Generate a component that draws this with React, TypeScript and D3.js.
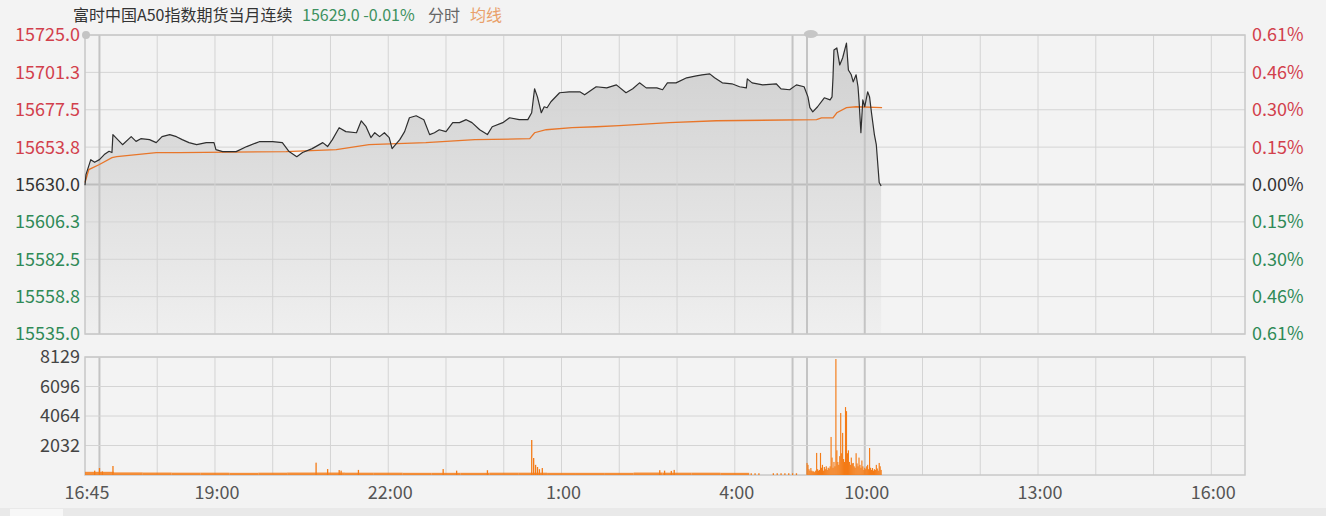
import React from "react";
import * as d3 from "d3";

const W = 1326;
const H = 516;

// ---- data ----
const BASE_PRICE = 15630.0;
const PRICE_MIN = 15535.0;
const PRICE_MAX = 15725.0;
const VOL_MAX = 8129;
const SESSION_MINUTES = 1205; // 16:45 -> 05:15 (750 min) + 09:00 -> 16:35 (455 min)

const titleName = "富时中国A50指数期货当月连续";
const titleQuote = "15629.0 -0.01%";
const titleMode = "分时";
const titleAvg = "均线";

const timeLabels = ["16:45", "19:00", "22:00", "1:00", "4:00", "10:00", "13:00", "16:00"];
const timeLabelMinutes = [0, 135, 315, 495, 675, 810, 990, 1170];
const hourGridMinutes = [15, 75, 135, 195, 255, 315, 375, 435, 495, 555, 615, 675, 735, 750, 810, 870, 930, 990, 1050, 1110, 1170];
const strongGridMinutes = [15, 735, 750, 810];

// minutes since 16:45 (day session continues at 750 = 09:00)
const priceMinutes = [
  0, 1, 6, 10, 15, 20, 25, 28, 29, 34, 39, 48, 53, 58, 67, 74, 80, 88, 95, 101,
  108, 116, 126, 134, 136, 143, 157, 168, 181, 195, 205, 212, 220, 226, 236, 247, 252, 257, 264, 271,
  282, 287, 292, 297, 301, 306, 311, 316, 319, 327, 332, 337, 344, 352, 358, 363, 368, 375, 382, 389,
  396, 402, 410, 418, 423, 434, 441, 451, 460, 464, 467, 470, 474, 477, 480, 484, 493, 503, 514, 519,
  531, 542, 552, 562, 569, 576, 583, 594, 600, 605, 614, 625, 635, 641, 649, 654, 662, 672, 680, 687,
  688, 693, 704, 718, 723, 732, 739, 747, 751, 753, 756, 761, 768, 774, 776, 777, 778, 781, 784, 787,
  791, 793, 796, 798, 801, 803, 804, 806, 808, 810, 813, 815, 817, 820, 822, 825, 827,
];
const priceValues = [
  15629.5, 15636.3, 15645.8, 15644.1, 15645.8, 15649.0, 15651.1, 15650.3, 15661.7, 15658.5,
  15655.3, 15660.4, 15657.4, 15659.1, 15658.5, 15656.6, 15660.4, 15661.7, 15660.4, 15658.5,
  15656.6, 15655.3, 15656.6, 15656.6, 15652.2, 15650.9, 15650.9, 15654.1, 15657.2, 15657.2,
  15656.6, 15650.9, 15647.7, 15650.3, 15652.8, 15656.6, 15654.1, 15658.5, 15666.1, 15663.6,
  15662.9, 15670.5, 15666.7, 15659.8, 15662.9, 15660.4, 15662.9, 15659.8, 15652.8, 15658.5,
  15663.6, 15672.4, 15673.7, 15671.2, 15661.7, 15662.9, 15664.8, 15663.6, 15669.3, 15669.3,
  15671.2, 15669.3, 15664.8, 15661.7, 15666.7, 15669.3, 15672.4, 15671.2, 15671.2, 15675.6,
  15690.8, 15685.7, 15675.6, 15679.4, 15678.8, 15682.6, 15688.3, 15688.9, 15688.9, 15687.0,
  15692.1, 15691.4, 15693.3, 15688.3, 15690.8, 15694.6, 15691.4, 15691.4, 15690.2, 15694.6,
  15694.6, 15697.8, 15699.0, 15699.7, 15700.3, 15697.8, 15694.6, 15694.0, 15692.1, 15691.4,
  15697.1, 15694.6, 15693.3, 15694.0, 15690.8, 15690.2, 15693.3, 15692.1, 15685.7, 15678.8,
  15676.2, 15679.4, 15685.1, 15683.8, 15685.7, 15697.8, 15715.5, 15716.8, 15706.0, 15710.4,
  15719.9, 15702.8, 15699.7, 15695.2, 15699.7, 15692.1, 15683.8, 15662.9, 15683.8, 15679.4,
  15688.9, 15685.7, 15675.6, 15661.7, 15655.3, 15631.3, 15629.0,
];

const avgMinutes = [0, 4, 15, 28, 33, 74, 98, 209, 261, 295, 354, 405, 462, 467, 479, 506, 531, 555, 607, 656, 760, 765, 777, 781, 791, 801, 828];
const avgValues = [
  15631.3, 15639.5, 15642.7, 15647.1, 15647.7, 15650.3, 15650.3, 15650.9, 15652.2, 15655.3,
  15656.6, 15658.5, 15659.1, 15662.9, 15664.8, 15666.1, 15666.7, 15667.4, 15669.3, 15670.5,
  15671.2, 15672.4, 15672.4, 15675.6, 15678.8, 15679.4, 15678.8,
];

// night session baseline volume, 30-minute buckets starting 16:45
const nightBaseVolume = [220, 180, 170, 160, 160, 150, 160, 170, 170, 160, 160, 150, 150, 150, 160, 160, 150, 150, 150, 170, 160, 160, 150, 0, 0];
const NIGHT_BUCKET = 30;

// individual night-session volume ticks
const nightSpikeMinutes = [10, 15, 18, 29, 240, 252, 264, 266, 284, 372, 386, 418, 464, 466, 468, 470, 472, 475, 597, 602, 609, 612, 692, 696, 700, 715, 719, 723, 727, 731, 735, 739];
const nightSpikeValues = [300, 480, 250, 620, 850, 410, 340, 300, 350, 410, 300, 330, 2410, 1170, 700, 550, 400, 480, 330, 300, 280, 350, 120, 120, 120, 120, 120, 120, 120, 120, 120, 120];

// day session volume, one per minute from 09:00 (minute 750)
const DAY_START = 750;
const dayVolumes = [
  830, 700, 400, 300, 480, 300, 250, 250, 200, 300,
  1520, 400, 300, 350, 1520, 500, 700, 300, 550, 400,
  600, 350, 500, 450, 600, 2620, 1200, 500, 900, 600,
  7990, 1700, 900, 700, 1300, 4270, 1500, 2900, 1100, 900,
  4680, 4400, 1500, 1700, 900, 700, 1200, 800, 830, 600,
  500, 1500, 800, 600, 1200, 700, 500, 1000, 600, 350,
  500, 400, 600, 700, 400, 1860, 500, 350, 480, 300,
  400, 350, 700, 450, 300, 830, 600, 350,
];

// ---- layout ----
const X0 = 85;
const X1 = 1245;
const P_TOP = 35;
const P_BOT = 334;
const V_TOP = 357;
const V_BOT = 475;

const FONT = "'Noto Sans CJK SC', 'Noto Sans', sans-serif";
const RED = "#d2404c";
const GREEN = "#2f8a57";
const DARK = "#333333";
const GRID = "#d4d4d4";
const ORANGE_LINE = "#e8762a";
const ORANGE_VOL = "#f47b16";

export default function App() {
  const x = d3.scaleLinear().domain([0, SESSION_MINUTES]).range([X0, X1]);
  const y = d3.scaleLinear().domain([PRICE_MIN, PRICE_MAX]).range([P_BOT, P_TOP]);
  const yv = d3.scaleLinear().domain([0, VOL_MAX]).range([V_BOT, V_TOP]);

  const priceTicks = d3.range(9).map((i) => PRICE_MIN + ((PRICE_MAX - PRICE_MIN) * i) / 8);
  const volTicks = [1, 2, 3, 4].map((i) => (VOL_MAX * i) / 4);

  const pts = priceMinutes.map((m, i) => [m, priceValues[i]] as [number, number]);
  const avgPts = avgMinutes.map((m, i) => [m, avgValues[i]] as [number, number]);

  const line = d3.line<[number, number]>().x((d) => x(d[0])).y((d) => y(d[1]));
  const area = d3
    .area<[number, number]>()
    .x((d) => x(d[0]))
    .y0(P_BOT)
    .y1((d) => y(d[1]));

  const priceColor = (v: number) => (Math.abs(v - BASE_PRICE) < 1e-6 ? DARK : v > BASE_PRICE ? RED : GREEN);

  return (
    <div style={{ position: "fixed", left: 0, top: 0, width: W, height: H, background: "#f3f3f3" }}>
      <svg width={W} height={H} style={{ display: "block" }} fontFamily={FONT}>
        <defs>
          <linearGradient id="areaGrad" gradientUnits="userSpaceOnUse" x1="0" y1={P_TOP} x2="0" y2={P_BOT}>
            <stop offset="0%" stopColor="#cfcfcf" />
            <stop offset="100%" stopColor="#efefef" />
          </linearGradient>
        </defs>
        <rect x={0} y={0} width={W} height={H} fill="#f3f3f3" />
        <rect x={0} y={508} width={W} height={8} fill="#e9e9e9" />
        <rect x={10} y={509} width={53} height={7} fill="#f7f7f7" />

        {/* title */}
        <text x={73} y={21} fontSize={16} fill={DARK}>{titleName}</text>
        <text x={302} y={21} fontSize={16} fill="#3d9160">{titleQuote}</text>
        <text x={428} y={21} fontSize={16} fill="#666">{titleMode}</text>
        <text x={470} y={21} fontSize={16} fill="#e9a06a">{titleAvg}</text>

        {/* price area */}
        <path d={area(pts) || ""} fill="url(#areaGrad)" />

        {/* price grid */}
        {priceTicks.map((t, i) => (
          <line key={"pg" + i} x1={X0} x2={X1} y1={y(t)} y2={y(t)}
            stroke={Math.abs(t - BASE_PRICE) < 1e-6 ? "#bdbdbd" : GRID}
            strokeWidth={Math.abs(t - BASE_PRICE) < 1e-6 ? 2.2 : 1} />
        ))}
        {hourGridMinutes.map((m, i) => (
          <g key={"vg" + i}>
            <line x1={x(m)} x2={x(m)} y1={P_TOP} y2={P_BOT}
              stroke={strongGridMinutes.includes(m) ? "#c4c4c4" : GRID}
              strokeWidth={strongGridMinutes.includes(m) ? 2 : 1} />
            <line x1={x(m)} x2={x(m)} y1={V_TOP} y2={V_BOT}
              stroke={strongGridMinutes.includes(m) ? "#c4c4c4" : GRID}
              strokeWidth={strongGridMinutes.includes(m) ? 2 : 1} />
          </g>
        ))}
        <rect x={X0} y={P_TOP} width={X1 - X0} height={P_BOT - P_TOP} fill="none" stroke="#c8c8c8" strokeWidth={1.5} />

        {/* volume grid */}
        {volTicks.map((t, i) => (
          <line key={"vgh" + i} x1={X0} x2={X1} y1={yv(t)} y2={yv(t)} stroke={GRID} />
        ))}
        <rect x={X0} y={V_TOP} width={X1 - X0} height={V_BOT - V_TOP} fill="none" stroke="#c8c8c8" strokeWidth={1.5} />

        {/* lines */}
        <path d={line(avgPts) || ""} fill="none" stroke={ORANGE_LINE} strokeWidth={1.3} />
        <path d={line(pts) || ""} fill="none" stroke="#2e2e2e" strokeWidth={1.2} strokeLinejoin="round" />

        {/* markers */}
        <circle cx={x(0) + 1} cy={P_TOP} r={4} fill="#c4c4c4" />
        <ellipse cx={x(754)} cy={P_TOP - 1} rx={7} ry={4} fill="#c6c6c6" />

        {/* volume bars */}
        {nightBaseVolume.map((v, i) =>
          v > 0 ? (
            <rect key={"nb" + i} x={x(i * NIGHT_BUCKET)} width={x((i + 1) * NIGHT_BUCKET) - x(i * NIGHT_BUCKET)}
              y={yv(v)} height={V_BOT - yv(v)} fill={ORANGE_VOL} opacity={0.85} />
          ) : null
        )}
        {nightSpikeMinutes.map((m, i) => (
          <rect key={"ns" + i} x={x(m) - 0.6} width={1.3} y={yv(nightSpikeValues[i])}
            height={V_BOT - yv(nightSpikeValues[i])} fill={ORANGE_VOL} />
        ))}
        {dayVolumes.map((v, i) => (
          <rect key={"dv" + i} x={x(DAY_START + i) - 0.55} width={1.15} y={yv(v)}
            height={V_BOT - yv(v)} fill={ORANGE_VOL} />
        ))}

        {/* left price labels */}
        {priceTicks.map((t, i) => (
          <text key={"pl" + i} x={80} y={y(t)} dy="0.36em" textAnchor="end" fontSize={18} fill={priceColor(t)}>
            {t.toFixed(1)}
          </text>
        ))}
        {/* right percent labels */}
        {priceTicks.map((t, i) => (
          <text key={"pr" + i} x={1252} y={y(t)} dy="0.36em" textAnchor="start" fontSize={18} fill={priceColor(t)}>
            {(Math.abs(t - BASE_PRICE) / BASE_PRICE * 100).toFixed(2) + "%"}
          </text>
        ))}
        {/* volume labels */}
        {volTicks.map((t, i) => (
          <text key={"vl" + i} x={80} y={yv(t)} dy="0.36em" textAnchor="end" fontSize={18} fill="#444">
            {Math.floor(t)}
          </text>
        ))}
        {/* time labels */}
        {timeLabels.map((s, i) => (
          <text key={"tl" + i} x={x(timeLabelMinutes[i]) + 2} y={493} dy="0.36em" textAnchor="middle" fontSize={18} fill="#555">
            {s}
          </text>
        ))}
      </svg>
    </div>
  );
}
